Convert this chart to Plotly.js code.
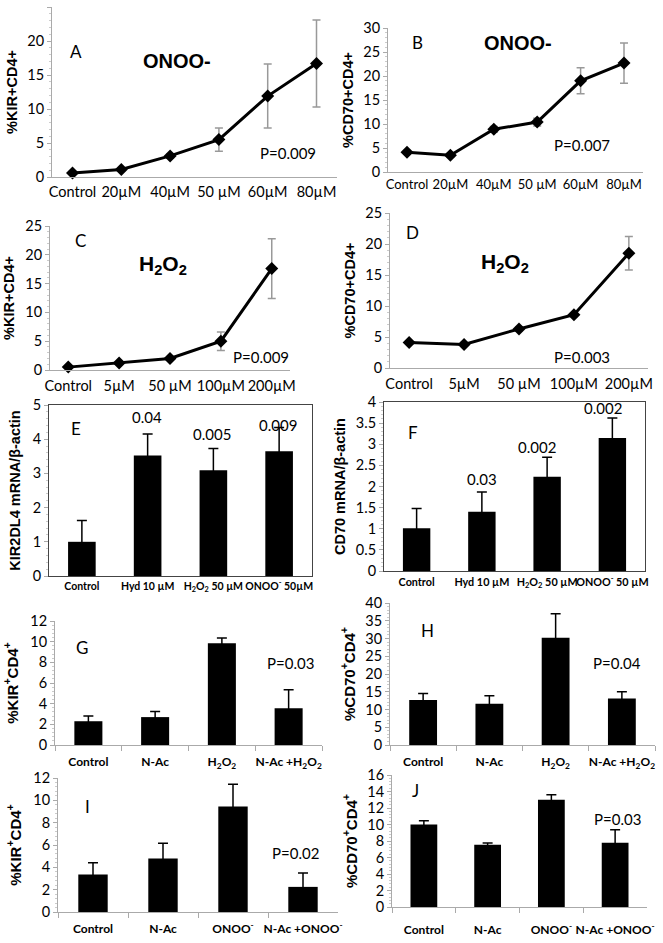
<!DOCTYPE html>
<html><head><meta charset="utf-8">
<script src="https://cdn.plot.ly/plotly-3.0.1.min.js"></script>
<style>body{margin:0;background:#fff}#chart{width:663px;height:943px}</style>
</head><body><div id="chart"></div>
<script>
// ---------- DATA ----------
const doseOnoo = ['Control','20µM','40µM','50 µM','60µM','80µM'];
const kirOnoo = [0.6,1.1,3.1,5.5,11.9,16.7];
const kirOnooErr = [0.2,0.2,0.3,1.7,4.7,6.4];
const cd70Onoo = [4.1,3.5,8.9,10.4,19.0,22.7];
const cd70OnooErr = [0.4,0.4,0.6,0.8,2.7,4.2];

const doseH2o2 = ['Control','5µM','50 µM','100µM','200µM'];
const kirH2o2 = [0.5,1.2,2.0,5.0,17.6];
const kirH2o2Err = [0.1,0.2,0.2,1.6,5.2];
const cd70H2o2 = [4.1,3.8,6.3,8.6,18.5];
const cd70H2o2Err = [0.2,0.3,0.3,0.3,2.7];

const mrnaCatsE = ['Control','Hyd 10 µM','H<sub>2</sub>O<sub>2</sub> 50 µM','ONOO<sup>-</sup> 50µM'];
const mrnaCatsF = ['Control','Hyd 10 µM','H<sub>2</sub>O<sub>2</sub> 50 µM','ONOO<sup>-</sup> 50 µM'];
const kirMrna = [1.0,3.52,3.09,3.65];
const kirMrnaErr = [0.62,0.63,0.64,0.69];
const kirMrnaP = ['0.04','0.005','0.009'];
const cd70Mrna = [1.01,1.40,2.23,3.15];
const cd70MrnaErr = [0.47,0.47,0.46,0.47];
const cd70MrnaP = ['0.03','0.002','0.002'];

const nacH2o2Cats = ['Control','N-Ac','H<sub>2</sub>O<sub>2</sub>','N-Ac +H<sub>2</sub>O<sub>2</sub>'];
const kirNacH2o2 = [2.3,2.7,9.85,3.55];
const kirNacH2o2Err = [0.5,0.55,0.5,1.8];
const cd70NacH2o2 = [12.7,11.6,30.2,13.1];
const cd70NacH2o2Err = [1.8,2.3,6.8,1.9];

const nacOnooCats = ['Control','N-Ac','ONOO<sup>-</sup>','N-Ac +ONOO<sup>-</sup>'];
const kirNacOnoo = [3.35,4.8,9.45,2.25];
const kirNacOnooErr = [1.05,1.35,2.0,1.25];
const cd70NacOnoo = [10.0,7.55,13.0,7.8];
const cd70NacOnooErr = [0.45,0.2,0.6,1.55];

const panelLetters = ['A','B','C','D','E','F','G','H','I','J'];
const pLabels = {A:'P=0.009',B:'P=0.007',C:'P=0.009',D:'P=0.003',G:'P=0.03',H:'P=0.04',I:'P=0.02',J:'P=0.03'};
const yTitles = ['%KIR+CD4+','%CD70+CD4+','%KIR+CD4+','%CD70+CD4+','KIR2DL4 mRNA/β-actin','CD70 mRNA/β-actin',
  '%KIR<sup>+</sup>CD4<sup>+</sup>','%CD70<sup>+</sup>CD4<sup>+</sup>','%KIR<sup>+</sup>CD4<sup>+</sup>','%CD70<sup>+</sup>CD4<sup>+</sup>'];

// ---------- LAYOUT ----------
const W = 663, H = 943;
const FONT = 'Lato, "Open Sans", sans-serif';
const ARIAL = '"Liberation Sans", Arial, sans-serif';
// [x0, x1, yTop, yBottom] in pixels
const boxes = [
  [52,337,7,177],[388,643,28,172],[50,290,226,370],[390,648,213,368],
  [49,312,405,576],[384,645,402,571],[55,322,621,745],[390,655,603,745],
  [58,338,778,912],[392,647,775,907]
];
const yMax = [25,30,25,25,5,4,12,40,12,16];
const yDt = [5,5,5,5,1,0.5,2,5,2,2];
const yMinor = [1,1,1,1,0.2,0.1,0.4,1,0.4,0.4];
const yTitleStand = [6,6,7,6,8,6,8,6,8,6];
const xLabStand = [2,0,3,3,0,1,6,6,6,12];
const xFont = [14.5,13,14.5,14.5,10.5,10.8,12,12,12,12];
const yTitleSize = [14.5,14.5,14.5,14.5,14.5,14.5,15,15,15,15];

const layout = {width:W, height:H, margin:{l:0,r:0,t:0,b:0}, autosize:false,
  paper_bgcolor:'#fff', plot_bgcolor:'#fff', showlegend:false, bargap:0.58,
  font:{family:FONT, color:'#000', size:13}, annotations:[]};

boxes.forEach((b,i)=>{
  const n = i+1, s = n===1?'':String(n);
  const isBoxed = (i===4||i===5);
  const isBar = i>=4;
  layout['xaxis'+s] = {
    domain:[b[0]/W, b[1]/W], anchor:'y'+s, type:'category',
    showline:true, linecolor: isBoxed?'#444':'#aaa', linewidth:1, mirror: isBoxed,
    showgrid:false, zeroline:false, fixedrange:true, tickangle:0,
    ticks: (i>=6)?'outside':'', tickson:'boundaries', ticklen:5, tickcolor:'#aaa',
    ticklabelstandoff: xLabStand[i],
    tickfont: isBar ? {family:FONT, size:xFont[i], color:'#000', weight:'bold'} : {family:FONT, size:xFont[i], color:'#000'}
  };
  layout['yaxis'+s] = {
    domain:[1-b[3]/H, 1-b[2]/H], anchor:'x'+s, range:[0,yMax[i]], dtick:yDt[i], tick0:0,
    showline:true, linecolor: isBoxed?'#444':'#aaa', linewidth:1, mirror: isBoxed,
    showgrid:false, zeroline:false, fixedrange:true,
    ticks:'outside', ticklen:4, tickcolor:'#aaa',
    minor:{ticks:'outside', ticklen:2, tickcolor:'#ccc', dtick:yMinor[i]},
    tickfont:{family:FONT, size:14.5, color:'#000'},
    title:{text:'<b>'+yTitles[i]+'</b>', standoff:yTitleStand[i], font:{family:ARIAL, size:yTitleSize[i], color:'#000'}}
  };
});

function ann(text, x, y, size, extra){
  return Object.assign({text, x:x/W, y:1-y/H, xref:'paper', yref:'paper', showarrow:false,
    xanchor:'center', yanchor:'middle', font:{family:FONT, size:size, color:'#000'}}, extra||{});
}
const letterPos = [[76,51],[417,43],[80,241],[412,233],[76,428],[413,432],[82,647],[427,630],[87,806],[415,790]];
letterPos.forEach((p,i)=>layout.annotations.push(ann(panelLetters[i], p[0], p[1], 17)));

const bigFont = {family:ARIAL, size:20, color:'#000'};
layout.annotations.push(ann('<b>ONOO-</b>',177,61,20,{font:bigFont}));
layout.annotations.push(ann('<b>ONOO-</b>',518,43,20,{font:bigFont}));
layout.annotations.push(ann('<b>H<sub>2</sub>O<sub>2</sub></b>',163,265,21,{font:Object.assign({},bigFont,{size:21})}));
layout.annotations.push(ann('<b>H<sub>2</sub>O<sub>2</sub></b>',505,263,21,{font:Object.assign({},bigFont,{size:21})}));

const pPos = {A:[288,153],B:[582,145],C:[261,357],D:[582,357],G:[290,663],H:[617,663],I:[295,853],J:[617,819]};
Object.keys(pPos).forEach(k=>layout.annotations.push(ann(pLabels[k], pPos[k][0], pPos[k][1], 15)));

const ePos = [[147,417],[212,434],[278,425]];
kirMrnaP.forEach((t,i)=>layout.annotations.push(ann(t, ePos[i][0], ePos[i][1], 15)));
const fPos = [[482,479],[537,447],[603,408]];
cd70MrnaP.forEach((t,i)=>layout.annotations.push(ann(t, fPos[i][0], fPos[i][1], 15)));

// ---------- TRACES ----------
function lineTrace(x,y,err,n){
  const s = n===1?'':String(n);
  return {type:'scatter', mode:'lines+markers', x, y, xaxis:'x'+s, yaxis:'y'+s,
    line:{color:'#000', width:3}, marker:{symbol:'diamond', size:10, color:'#000'},
    error_y:{type:'data', array:err, visible:true, color:'#999', thickness:1.5, width:4},
    cliponaxis:false, hoverinfo:'skip'};
}
function barTrace(x,y,err,n){
  const s = String(n);
  return {type:'bar', x, y, xaxis:'x'+s, yaxis:'y'+s, marker:{color:'#000', line:{width:0}},
    error_y:{type:'data', array:err, visible:true, color:'#000', thickness:1.5, width:5},
    hoverinfo:'skip'};
}
const data = [
  lineTrace(doseOnoo, kirOnoo, kirOnooErr, 1),
  lineTrace(doseOnoo, cd70Onoo, cd70OnooErr, 2),
  lineTrace(doseH2o2, kirH2o2, kirH2o2Err, 3),
  lineTrace(doseH2o2, cd70H2o2, cd70H2o2Err, 4),
  barTrace(mrnaCatsE, kirMrna, kirMrnaErr, 5),
  barTrace(mrnaCatsF, cd70Mrna, cd70MrnaErr, 6),
  barTrace(nacH2o2Cats, kirNacH2o2, kirNacH2o2Err, 7),
  barTrace(nacH2o2Cats, cd70NacH2o2, cd70NacH2o2Err, 8),
  barTrace(nacOnooCats, kirNacOnoo, kirNacOnooErr, 9),
  barTrace(nacOnooCats, cd70NacOnoo, cd70NacOnooErr, 10)
];

Plotly.newPlot('chart', data, layout, {staticPlot:true, displayModeBar:false});
</script>
</body></html>
